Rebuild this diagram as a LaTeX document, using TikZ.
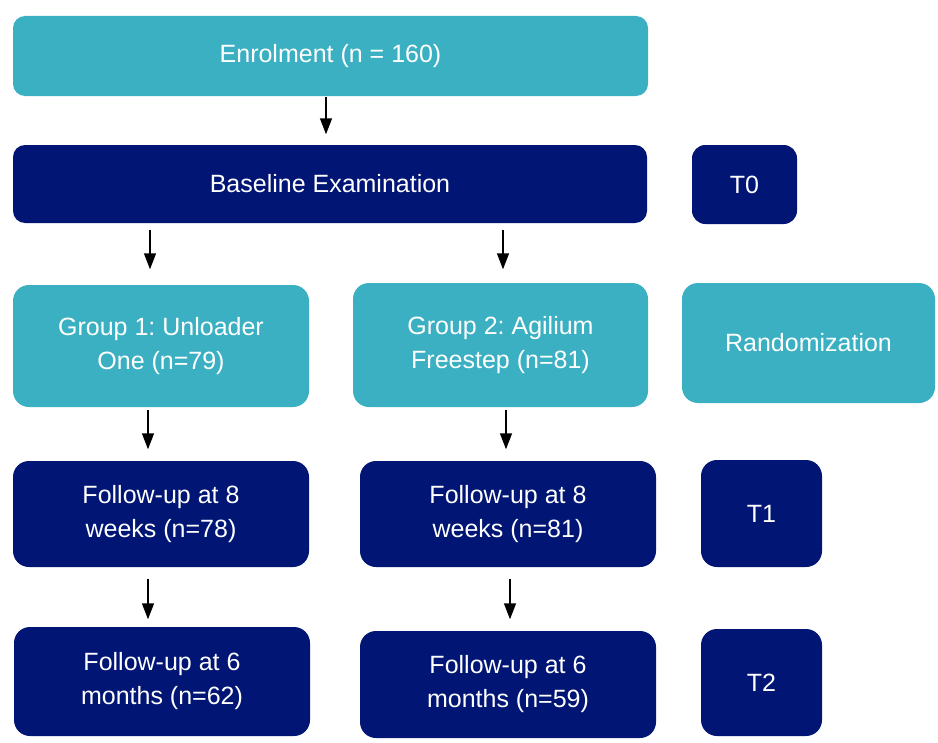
\documentclass[tikz,border=0pt]{standalone}
\usepackage{fontspec}
\setmainfont{Liberation Sans}
\usetikzlibrary{arrows.meta, positioning, calc}

\definecolor{tealfill}{RGB}{59,176,195}
\definecolor{navyfill}{RGB}{0,21,116}

\begin{document}
\frenchspacing
\begin{tikzpicture} [x = 0.75pt, y = -0.75pt, -> , >= {Triangle[length=12pt, width=9pt]}, line width = 1.1pt,
  box/.style = {rectangle, rounded corners = 12pt, inner sep = 0pt, text = white, align = center,
    font = \fontsize{18.75}{25.5}\selectfont},
  tealbox/.style = {box, fill = tealfill},
  navybox/.style = {box, fill = navyfill}]

\useasboundingbox (0,0) rectangle (938,742);

\node [tealbox, minimum width = 476.25pt, minimum height = 60pt, rounded corners = 9pt] (enrol) at (330.5,56) {Enrolment (n = 160)};
\node [navybox, minimum width = 475.5pt, minimum height = 58.5pt, rounded corners = 9pt] (base) at (330,184) {Baseline Examination};
\node [navybox, minimum width = 78.75pt, minimum height = 59.25pt, rounded corners = 10pt] (t0) at (744.5,184.5) {T0};

\node [tealbox, minimum width = 222pt, minimum height = 91.5pt] (g1) at (161,346) {Group 1: Unloader\\One (n=79)};
\node [tealbox, minimum width = 221.25pt, minimum height = 93pt] (g2) at (500.5,345) {Group 2: Agilium\\Freestep (n=81)};
\node [tealbox, minimum width = 189.75pt, minimum height = 90pt] (rand) at (808.5,343) {Randomization};

\node [navybox, minimum width = 222pt, minimum height = 79.5pt] (fu8a) at (161,514) {Follow-up at 8\\weeks (n=78)};
\node [navybox, minimum width = 222pt, minimum height = 79.5pt] (fu8b) at (508,514) {Follow-up at 8\\weeks (n=81)};
\node [navybox, minimum width = 90.75pt, minimum height = 80.25pt] (t1) at (761.5,513.5) {T1};

\node [navybox, minimum width = 222pt, minimum height = 81.75pt] (fu6a) at (162,681.5) {Follow-up at 6\\months (n=62)};
\node [navybox, minimum width = 222pt, minimum height = 80.25pt] (fu6b) at (508,684.5) {Follow-up at 6\\months (n=59)};
\node [navybox, minimum width = 90.75pt, minimum height = 80.25pt] (t2) at (761.5,682.5) {T2};

% arrows between the stages
\draw [shorten >= 7.5pt] (enrol.south -| 326,0) -- (base.north -| 326,0);
\draw [shorten <= 4.5pt, shorten >= 11.25pt] (base.south -| 150,0) -- (g1.north -| 150,0);
\draw [shorten <= 4.5pt, shorten >= 9.75pt] (base.south -| 503,0) -- (g2.north -| 503,0);
\draw [shorten <= 1.5pt, shorten >= 8.25pt] (g1.south -| 148,0) -- (fu8a.north -| 148,0);
\draw [shorten <= 1.5pt, shorten >= 8.25pt] (g2.south -| 506,0) -- (fu8b.north -| 506,0);
\draw [shorten <= 8.25pt, shorten >= 5.25pt] (fu8a.south -| 148,0) -- (fu6a.north -| 148,0);
\draw [shorten <= 8.25pt, shorten >= 8.25pt] (fu8b.south -| 510,0) -- (fu6b.north -| 510,0);

\end{tikzpicture}
\end{document}
